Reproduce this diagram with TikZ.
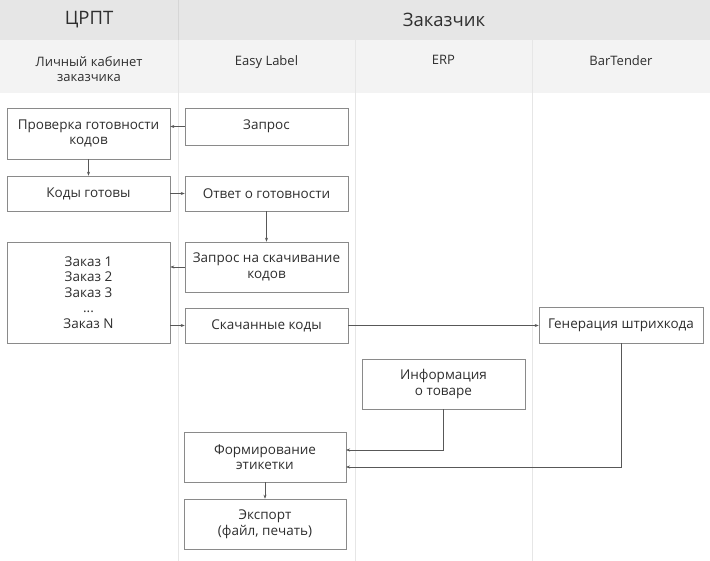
\documentclass[tikz,border=0pt]{standalone}
\usepackage{fontspec}
\setmainfont{Open Sans}
\usetikzlibrary{arrows.meta}
\definecolor{bandtop}{HTML}{E6E6E6}
\definecolor{bandsub}{HTML}{F3F3F3}
\definecolor{laneline}{HTML}{E6E6E6}
\definecolor{headline}{HTML}{D6D6D6}
\definecolor{boxline}{HTML}{8A8A8A}
\definecolor{inkgray}{HTML}{2E2E2E}
\tikzset{
  box/.style={draw=boxline, fill=white, line width=0.6pt, minimum width=163pt,
    minimum height=#1, inner sep=0pt, align=center, text=inkgray,
    font=\fontsize{13.5}{15.5}\selectfont},
  box/.default=36pt,
  arr/.style={draw=inkgray!80, line width=0.5pt, -{Stealth[length=4pt,width=3pt]}},
  head/.style={text=inkgray, font=\fontsize{18.5}{22}\selectfont},
  lane/.style={text=inkgray, align=center, anchor=north, font=\fontsize{13}{15.5}\selectfont}
}
\begin{document}
\begin{tikzpicture}[x=1pt,y=-1pt]
\useasboundingbox (0,0) rectangle (710,561);
\fill[white] (0,0) rectangle (710,561);
\fill[bandtop] (0,0) rectangle (710,40);
\fill[bandsub] (0,40) rectangle (710,93);
\draw[headline] (178,0) -- (178,40);
\draw[laneline] (178,40) -- (178,561);
\draw[laneline] (355,40) -- (355,561);
\draw[laneline] (532,40) -- (532,561);
\node [head] (crpt) at (89,20) {ЦРПТ};
\node [head] (cust) at (444,20) {Заказчик};
\node [lane] (cab) at (89,53) {Личный кабинет\\заказчика};
\node [lane] (easy) at (266.5,52) {Easy Label};
\node [lane] (erp) at (443.5,52) {ERP};
\node [lane] (bt) at (621,52) {BarTender};
\node [box=51pt] (check) at (88.5,133.5) {Проверка готовности\\кодов};
\node [box=37pt] (req) at (266.5,126.5) {Запрос};
\node [box=35pt] (ready) at (88.5,193.5) {Коды готовы};
\node [box=35pt] (answer) at (266.5,193.5) {Ответ о готовности};
\node [box=101pt] (orders) at (88.5,292.5) {Заказ 1\\Заказ 2\\Заказ 3\\...\\Заказ N};
\node [box=50pt] (dlreq) at (266.5,267) {Запрос на скачивание\\кодов};
\node [box=35pt] (codes) at (266.5,325.5) {Скачанные коды};
\node [box=36pt, minimum width=164pt] (gen) at (621,325) {Генерация штрихкода};
\node [box=50pt] (info) at (443.5,384) {Информация\\о товаре};
\node [box=50pt, minimum width=162pt] (label) at (265,457) {Формирование\\этикетки};
\node [box=50pt, minimum width=162pt] (export) at (265,524) {Экспорт\\(файл, печать)};
\coordinate (lab1) at (346,450);
\coordinate (lab2) at (346,467);
\draw [arr] (req.west) to (req.west -| check.east);
\draw [arr] (check.south) to (ready.north);
\draw [arr] (ready.east) to (answer.west);
\draw [arr] (answer.south) to (dlreq.north);
\draw [arr] (dlreq.west) to (dlreq.west -| orders.east);
\draw [arr] (codes.west -| orders.east) to (codes.west);
\draw [arr] (codes.east) to (codes.east -| gen.west);
\draw [arr] (info.south) |- (lab1);
\draw [arr] (gen.south) |- (lab2);
\draw [arr] (label.south) to (export.north);
\end{tikzpicture}
\end{document}
